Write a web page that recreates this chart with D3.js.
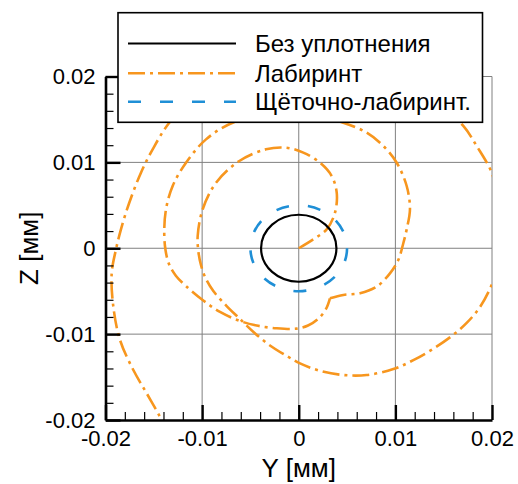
<!DOCTYPE html>
<html><head><meta charset="utf-8">
<script src="https://cdn.jsdelivr.net/npm/d3@7"></script>
<style>
body{margin:0;background:#fff}
svg{display:block}
text{font-family:"Liberation Sans",Arial,Helvetica,sans-serif;fill:#000}
</style>
</head><body>
<svg id="chart" width="518" height="484"></svg>
<script>
// ---------------- data ----------------
const majorTicks = [-0.02, -0.01, 0, 0.01, 0.02];
const tickLabels = ["-0.02", "-0.01", "0", "0.01", "0.02"];
const minorTicks = [-0.018,-0.016,-0.014,-0.012,-0.008,-0.006,-0.004,-0.002,
                    0.002,0.004,0.006,0.008,0.012,0.014,0.016,0.018];
const seriesNames = ["Без уплотнения", "Лабиринт", "Щёточно-лабиринт."];
const xTitle = "Y [мм]";
const yTitle = "Z [мм]";

// orbit radii (circular orbits) [mm]
const noSealRadius = 0.0039;
const brushRadius = 0.005;

// Labyrinth orbit: spiral part
const labSpiralY = [0, 0.0015, 0.00289, 0.00375, 0.00393, 0.00341, 0.0022, 0.00047, -0.00132, -0.00339,
  -0.00615, -0.00856, -0.00994, -0.01046, -0.01038, -0.01012, -0.00965, -0.00884, -0.00746, -0.00608,
  -0.00463, -0.00298, -0.00125, 0.00013, 0.0022, 0.00461, 0.00703, 0.00979, 0.01186, 0.01393,
  0.016, 0.01738, 0.01876, 0.01997, 0.0208, 0.021, 0.0205, 0.01997, 0.01842, 0.01703,
  0.0146, 0.0105, 0.0053, 0.0001, -0.005, -0.0102, -0.0134, -0.01512, -0.01633, -0.01754,
  -0.0184, -0.01893, -0.01936, -0.01919, -0.0185, -0.01712, -0.01574, -0.01436, -0.01353];
const labSpiralZ = [0, 0.00104, 0.0022, 0.00414, 0.00647, 0.00841, 0.00996, 0.01113, 0.01171, 0.01152,
  0.01016, 0.00763, 0.00454, 0.00143, -0.00044, -0.00195, -0.00346, -0.00498, -0.00673, -0.00824,
  -0.00981, -0.01132, -0.01254, -0.01341, -0.01427, -0.01476, -0.01476, -0.01407, -0.01303, -0.0117,
  -0.01007, -0.0087, -0.00684, -0.00426, -0.0014, 0.0021, 0.0062, 0.0088, 0.0119, 0.01424,
  0.0167, 0.019, 0.0202, 0.0205, 0.0202, 0.0184, 0.01462, 0.01152, 0.0088, 0.0053,
  0.0022, -0.0002, -0.00292, -0.0068, -0.01068, -0.01418, -0.01689, -0.01962, -0.0214];

// Labyrinth orbit: closed loop with kink
const labLoopY = [0.00323, 0.00461, 0.00634, 0.00807, 0.00944, 0.0103, 0.01082, 0.01117, 0.01151, 0.01117,
  0.01014, 0.00875, 0.00703, 0.00461, 0.0022, -0.0009, -0.004, -0.00684, -0.0096, -0.01167,
  -0.01305, -0.01374, -0.01392, -0.01379, -0.01343, -0.0127, -0.01167, -0.00988, -0.00815, -0.00608,
  -0.00435, -0.00228, -0.00021, 0.00096, 0.00199, 0.00282, 0.00323];
const labLoopZ = [-0.00583, -0.00544, -0.00524, -0.00447, -0.00292, -0.00137, 0.00058, 0.0022, 0.00453, 0.00725,
  0.00996, 0.01191, 0.01346, 0.01462, 0.0153, 0.0156, 0.0153, 0.01462, 0.01268, 0.00996,
  0.00725, 0.00453, 0.00181, -0.0002, -0.00183, -0.00323, -0.0044, -0.00608, -0.00742, -0.00847,
  -0.009, -0.00932, -0.00936, -0.009, -0.00824, -0.00707, -0.00583];

// ---------------- styles ----------------
const colBlack = "#000000", colOrange = "#f7961e", colBlue = "#1f8fd6", colGrid = "#808080";
const dashOrange = "17,5,3,5", dashBlue = "13,19";

// ---------------- chart ----------------
const svg = d3.select("#chart");
const x = d3.scaleLinear().domain([-0.02, 0.02]).range([105.5, 492]);
const y = d3.scaleLinear().domain([-0.02, 0.02]).range([420, 76.5]);

svg.append("defs").append("clipPath").attr("id", "plotclip")
  .append("rect").attr("x", x(-0.02)).attr("y", y(0.02))
  .attr("width", x(0.02) - x(-0.02)).attr("height", y(-0.02) - y(0.02));

// grid
const grid = svg.append("g");
grid.selectAll("line.v").data(majorTicks.filter(d => d > -0.02)).join("line")
  .attr("x1", d => x(d)).attr("x2", d => x(d)).attr("y1", y(0.02)).attr("y2", y(-0.02))
  .attr("stroke", colGrid).attr("stroke-width", 1);
grid.selectAll("line.h").data(majorTicks.filter(d => d > -0.02)).join("line")
  .attr("y1", d => y(d)).attr("y2", d => y(d)).attr("x1", x(-0.02)).attr("x2", x(0.02))
  .attr("stroke", colGrid).attr("stroke-width", 1);

// curves
const plot = svg.append("g").attr("clip-path", "url(#plotclip)");
const line = d3.line().x(d => x(d[0])).y(d => y(d[1])).curve(d3.curveCatmullRom.alpha(0.5));

const spiral = labSpiralY.map((v, i) => [v, labSpiralZ[i]]);
const loop = labLoopY.map((v, i) => [v, labLoopZ[i]]);

plot.append("path").attr("d", line(loop)).attr("fill", "none")
  .attr("stroke", colOrange).attr("stroke-width", 2.6).attr("stroke-dasharray", dashOrange);
plot.append("path").attr("d", line(spiral)).attr("fill", "none")
  .attr("stroke", colOrange).attr("stroke-width", 2.6).attr("stroke-dasharray", dashOrange);

plot.append("ellipse").attr("cx", x(0)).attr("cy", y(0))
  .attr("rx", x(brushRadius) - x(0)).attr("ry", y(0) - y(brushRadius))
  .attr("fill", "none").attr("stroke", colBlue).attr("stroke-width", 2.6)
  .attr("stroke-dasharray", dashBlue);
plot.append("ellipse").attr("cx", x(0)).attr("cy", y(0))
  .attr("rx", x(noSealRadius) - x(0)).attr("ry", y(0) - y(noSealRadius))
  .attr("fill", "none").attr("stroke", colBlack).attr("stroke-width", 2.2);

// axes
function styleAxis(g) {
  g.selectAll("text").style("font-family", '"Liberation Sans",Arial,sans-serif')
    .style("font-size", "22px").attr("fill", "#000");
  g.select(".domain").attr("stroke", "#000").attr("stroke-width", 2.6);
  g.selectAll(".tick line").attr("stroke", "#000").attr("stroke-width", 2.4);
}
const fmt = d => tickLabels[majorTicks.indexOf(d)];

const gxMinor = svg.append("g").attr("transform", `translate(0,${y(-0.02)})`)
  .call(d3.axisBottom(x).tickValues(minorTicks).tickSize(-8).tickFormat(""));
gxMinor.select(".domain").remove();
gxMinor.selectAll(".tick line").attr("stroke", "#000").attr("stroke-width", 1.2);

const gyMinor = svg.append("g").attr("transform", `translate(${x(-0.02)},0)`)
  .call(d3.axisLeft(y).tickValues(minorTicks).tickSize(-8).tickFormat(""));
gyMinor.select(".domain").remove();
gyMinor.selectAll(".tick line").attr("stroke", "#000").attr("stroke-width", 1.2);

const gx = svg.append("g").attr("transform", `translate(0,${y(-0.02)})`)
  .call(d3.axisBottom(x).tickValues(majorTicks).tickSizeInner(-15).tickSizeOuter(0)
    .tickPadding(10).tickFormat(fmt));
styleAxis(gx);
gx.selectAll("text").attr("dy", "0.71em").attr("y", 10);

const gy = svg.append("g").attr("transform", `translate(${x(-0.02)},0)`)
  .call(d3.axisLeft(y).tickValues(majorTicks).tickSizeInner(-15).tickSizeOuter(0)
    .tickPadding(10).tickFormat(fmt));
styleAxis(gy);
gy.selectAll("text").attr("dy", "0.34em");

// axis titles
svg.append("text").attr("x", x(0)).attr("y", 477).attr("text-anchor", "middle")
  .style("font-size", "26px").text(xTitle);
svg.append("text").attr("transform", `translate(38,${y(0)}) rotate(-90)`)
  .attr("text-anchor", "middle").style("font-size", "26px").text(yTitle);

// legend
const lg = svg.append("g");
lg.append("rect").attr("x", 118).attr("y", 12.7).attr("width", 364.5).attr("height", 109.6)
  .attr("fill", "#fff").attr("stroke", "#000").attr("stroke-width", 1.6);
const legendStyles = [
  {c: colBlack, d: null, w: 2.2},
  {c: colOrange, d: dashOrange, w: 2.6},
  {c: colBlue, d: dashBlue, w: 2.6}
];
const rowY = [43.5, 73.3, 101.7];
seriesNames.forEach((name, i) => {
  const s = legendStyles[i];
  const l = lg.append("line").attr("x1", 128).attr("x2", 236).attr("y1", rowY[i]).attr("y2", rowY[i])
    .attr("stroke", s.c).attr("stroke-width", s.w);
  if (s.d) l.attr("stroke-dasharray", s.d);
  lg.append("text").attr("x", 255).attr("y", rowY[i] + 8.7).style("font-size", "24px").text(name);
});
</script>
</body></html>
